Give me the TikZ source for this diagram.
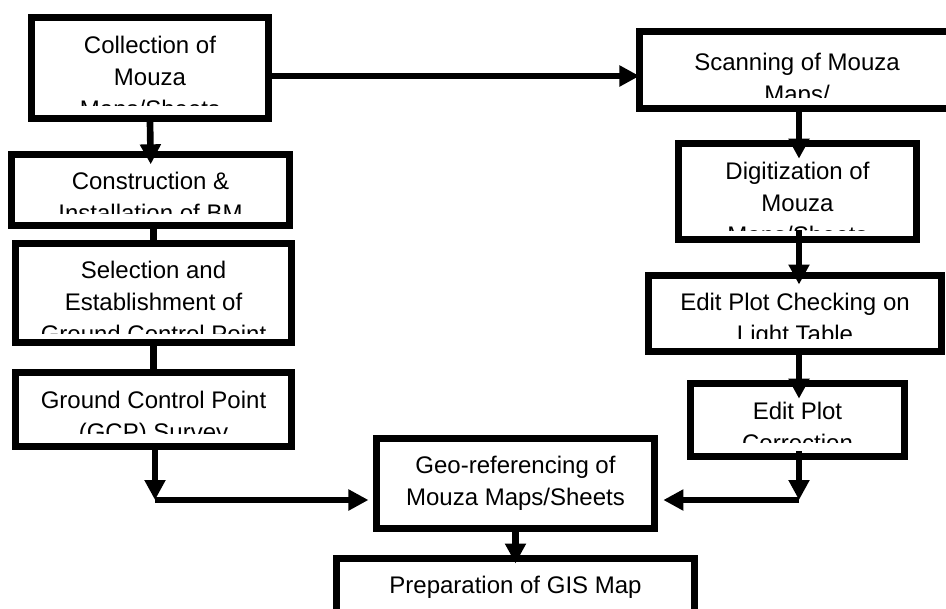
\documentclass[tikz,border=0pt]{standalone}
\usepackage{fontspec}
\setmainfont{Liberation Sans}
\usetikzlibrary{arrows.meta, fit}
\tikzset{every picture/.style={line width=0.75pt}}

\begin{document}
\begin{tikzpicture}[x=0.75pt,y=0.75pt,yscale=-1,
  stage/.style={draw, line width=5.25pt, inner sep=0pt},
  stagetext/.style={anchor=north, align=center, inner sep=0pt, font=\fontsize{18}{24}\selectfont},
  flow/.style={line width=5pt, -{Triangle[length=15pt,width=15pt]}},
  link/.style={line width=5pt}]
%set diagram: width 946, height 608
\clip (0,0) rectangle (946,608);

%Shape: Rectangle [id:collect] 
\node (collect) [stage, fit={(31.5,17.5) (268.5,118.5)}] {};
%Shape: Rectangle [id:scan] 
\node (scan) [stage, fit={(639.5,31.5) (954.5,108.5)}] {};
%Shape: Rectangle [id:construct] 
\node (construct) [stage, fit={(11.5,154.5) (289.5,225.5)}] {};
%Shape: Rectangle [id:select] 
\node (select) [stage, fit={(15.5,243.5) (291.5,342.5)}] {};
%Shape: Rectangle [id:gcp] 
\node (gcp) [stage, fit={(15.5,372.5) (291.5,446.5)}] {};
%Shape: Rectangle [id:digit] 
\node (digit) [stage, fit={(678.5,143.5) (916.5,239.5)}] {};
%Shape: Rectangle [id:check] 
\node (check) [stage, fit={(648.5,275.5) (941.5,351.5)}] {};
%Shape: Rectangle [id:fix] 
\node (fix) [stage, fit={(690.5,383.5) (904.5,456.5)}] {};
%Shape: Rectangle [id:geo] 
\node (geo) [stage, fit={(376.5,438.5) (654.5,528.5)}] {};
%Shape: Rectangle [id:gis] 
\node (gis) [stage, fit={(336.5,558.5) (694.5,650)}] {};

% Text Node
\begin{scope}
\clip (31.5,17.5) rectangle (268.5,105);
\node (collecttext) [stagetext] at (150,35.5) {Collection of\\Mouza\\Maps/Sheets};
\end{scope}
% Text Node
\begin{scope}
\clip (639.5,31.5) rectangle (946,97);
\node (scantext) [stagetext] at (797,52.5) {Scanning of Mouza\\Maps/};
\end{scope}
% Text Node
\begin{scope}
\clip (11.5,154.5) rectangle (289.5,213);
\node (constructtext) [stagetext] at (150.5,171.5) {Construction \&\\Installation of BM};
\end{scope}
% Text Node
\begin{scope}
\clip (15.5,243.5) rectangle (291.5,333);
\node (selecttext) [stagetext] at (153.5,260.5) {Selection and\\Establishment of\\Ground Control Point};
\end{scope}
% Text Node
\begin{scope}
\clip (15.5,372.5) rectangle (291.5,433);
\node (gcptext) [stagetext] at (153.5,390.5) {Ground Control Point\\(GCP) Survey};
\end{scope}
% Text Node
\begin{scope}
\clip (678.5,143.5) rectangle (916.5,230);
\node (digittext) [stagetext] at (797.5,162) {Digitization of\\Mouza\\Maps/Sheets};
\end{scope}
% Text Node
\begin{scope}
\clip (648.5,275.5) rectangle (941.5,338);
\node (checktext) [stagetext] at (795,292.5) {Edit Plot Checking on\\Light Table};
\end{scope}
% Text Node
\begin{scope}
\clip (690.5,383.5) rectangle (904.5,442);
\node (fixtext) [stagetext] at (797.5,402) {Edit Plot\\Correction};
\end{scope}
% Text Node
\node (geotext) [stagetext] at (515.5,455.5) {Geo-referencing of\\Mouza Maps/Sheets};
% Text Node
\node (gistext) [stagetext] at (515.5,575.5) {Preparation of GIS Map};

\coordinate (row) at (0,76);
\coordinate (rcol) at (799,0);
\coordinate (lturn) at (155,500);
\coordinate (rturn) at (799,500);

%Straight Lines [id:collect-scan] 
\draw [flow, shorten >=-2.6pt] (collect.east |- row) -- (scan.west |- row);
%Straight Lines [id:collect-construct] 
\draw [flow, shorten >=-10pt] (collect.south) -- (construct.north);
%Straight Lines [id:construct-select] 
\draw [link] (select.north |- construct.south) -- (select.north);
%Straight Lines [id:select-gcp] 
\draw [link] (gcp.north |- select.south) -- (gcp.north);
%Straight Lines [id:gcp-geo] 
\draw [flow] (gcp.south -| lturn) -- (lturn);
\draw [flow, shorten >=3.4pt] (lturn) -- (geo.west |- lturn);
%Straight Lines [id:scan-digit] 
\draw [flow, shorten >=-14pt] (scan.south -| rcol) -- (digit.north -| rcol);
%Straight Lines [id:digit-check] 
\draw [flow, shorten <=-9.4pt, shorten >=-9.4pt] (digit.south -| rcol) -- (check.north -| rcol);
%Straight Lines [id:check-fix] 
\draw [flow, shorten <=-2.6pt, shorten >=-14pt] (check.south -| rcol) -- (fix.north -| rcol);
%Straight Lines [id:fix-geo] 
\draw [flow, shorten <=-6.4pt] (fix.south -| rturn) -- (rturn);
\draw [flow, shorten >=4pt] (rturn) -- (geo.east |- rturn);
%Straight Lines [id:geo-gis] 
\draw [flow, shorten >=-6.4pt] (geo.south) -- (gis.north);

\end{tikzpicture}
\end{document}
